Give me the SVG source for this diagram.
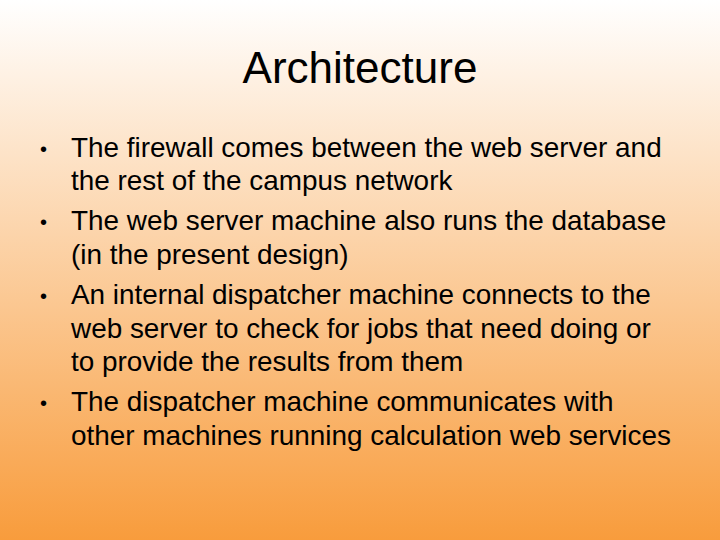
<svg xmlns="http://www.w3.org/2000/svg" width="720" height="540" viewBox="0 0 720 540">
<defs>
<linearGradient id="bg" x1="0" y1="0" x2="0" y2="1">
<stop offset="0" stop-color="#ffffff"/>
<stop offset="1" stop-color="#f89c3c"/>
</linearGradient>
<style>
.t{font-family:"Liberation Sans",Arial,sans-serif;fill:#000}
.b{font-size:27.9px}
.d{font-size:20px}
</style>
</defs>
<rect width="720" height="540" fill="url(#bg)"/>
<text class="t" x="360" y="83" font-size="44" text-anchor="middle">Architecture</text>
<g class="t b">
<text class="d" x="40" y="156">•</text>
<text x="71" y="157">The firewall comes between the web server and</text>
<text x="71" y="190">the rest of the campus network</text>
<text class="d" x="40" y="229">•</text>
<text x="71" y="230">The web server machine also runs the database</text>
<text x="71" y="264">(in the present design)</text>
<text class="d" x="40" y="303">•</text>
<text x="71" y="304">An internal dispatcher machine connects to the</text>
<text x="71" y="338">web server to check for jobs that need doing or</text>
<text x="71" y="371">to provide the results from them</text>
<text class="d" x="40" y="410">•</text>
<text x="71" y="411">The dispatcher machine communicates with</text>
<text x="71" y="445">other machines running calculation web services</text>
</g>
</svg>
